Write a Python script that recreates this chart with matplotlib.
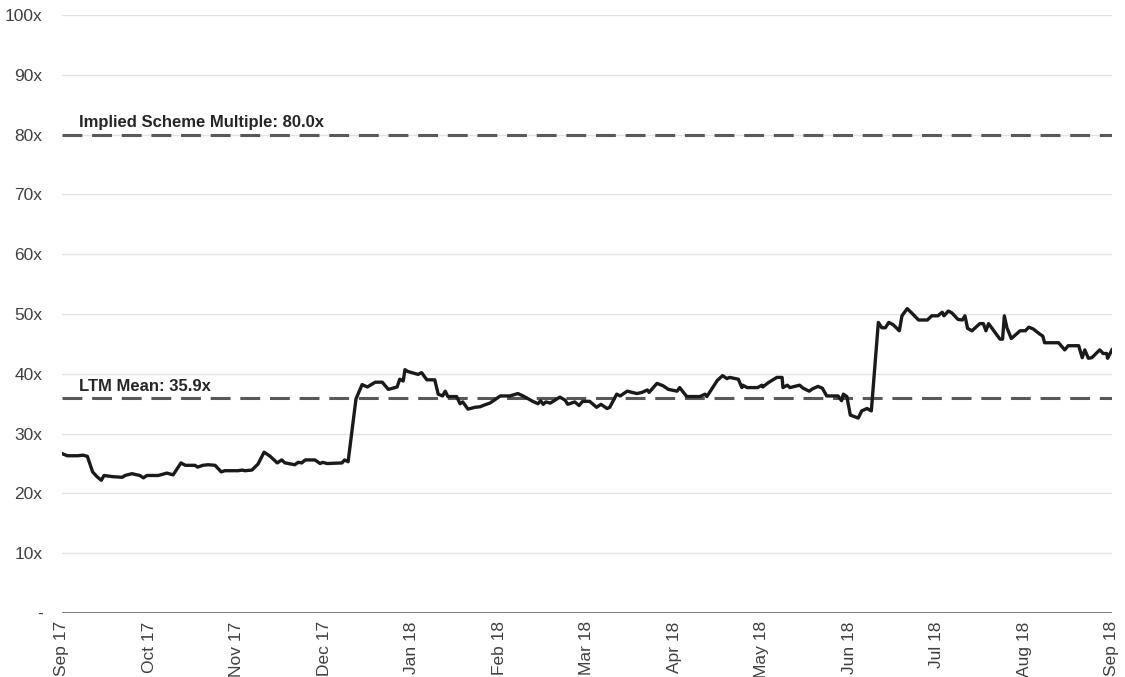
import numpy as np
import matplotlib
matplotlib.use('Agg')
import matplotlib.pyplot as plt

#---------------------------------------------------------------------#
# LTM trading multiple, Sep 17 - Sep 18                               #
# month_pos: position in months since Sep 17 (0 = Sep 17, 12 = Sep 18)#
#---------------------------------------------------------------------#
month_labels = ['Sep 17', 'Oct 17', 'Nov 17', 'Dec 17', 'Jan 18', 'Feb 18', 'Mar 18',
                'Apr 18', 'May 18', 'Jun 18', 'Jul 18', 'Aug 18', 'Sep 18']

month_pos = [0.01, 0.06, 0.18, 0.24, 0.29, 0.35, 0.40, 0.45, 0.48, 0.58, 0.69, 0.72,
             0.80, 0.89, 0.93, 0.97, 1.10, 1.20, 1.27, 1.36, 1.41, 1.52, 1.55, 1.61,
             1.67, 1.75, 1.82, 1.86, 2.01, 2.06, 2.09, 2.17, 2.24, 2.31, 2.38, 2.46,
             2.51, 2.55, 2.66, 2.70, 2.74, 2.78, 2.89, 2.95, 2.98, 3.03, 3.20, 3.23,
             3.27, 3.36, 3.43, 3.49, 3.58, 3.66, 3.73, 3.83, 3.86, 3.90, 3.92, 3.95,
             4.07, 4.11, 4.17, 4.26, 4.30, 4.35, 4.38, 4.41, 4.51, 4.55, 4.58, 4.64,
             4.72, 4.78, 4.83, 4.89, 5.01, 5.12, 5.21, 5.27, 5.38, 5.44, 5.47, 5.50,
             5.53, 5.58, 5.69, 5.75, 5.78, 5.86, 5.91, 5.95, 6.03, 6.11, 6.16, 6.23,
             6.26, 6.34, 6.38, 6.46, 6.57, 6.63, 6.69, 6.71, 6.80, 6.87, 6.93, 7.03,
             7.06, 7.14, 7.29, 7.35, 7.37, 7.41, 7.49, 7.55, 7.60, 7.63, 7.73, 7.77,
             7.78, 7.83, 7.95, 8.00, 8.01, 8.07, 8.17, 8.23, 8.24, 8.29, 8.32, 8.43,
             8.47, 8.54, 8.58, 8.64, 8.69, 8.74, 8.87, 8.91, 8.93, 8.97, 9.01, 9.10,
             9.14, 9.20, 9.25, 9.33, 9.37, 9.41, 9.45, 9.50, 9.57, 9.60, 9.66, 9.71,
             9.79, 9.89, 9.94, 10.01, 10.06, 10.08, 10.13, 10.17, 10.24, 10.29, 10.32, 10.35,
             10.40, 10.49, 10.53, 10.56, 10.59, 10.66, 10.72, 10.75, 10.77, 10.80, 10.85, 10.95,
             11.01, 11.05, 11.10, 11.17, 11.21, 11.23, 11.39, 11.46, 11.50, 11.62, 11.66, 11.69,
             11.73, 11.77, 11.86, 11.90, 11.94, 11.95, 12.00]

multiple = [26.6, 26.3, 26.3, 26.4, 26.2, 23.6, 22.8, 22.2, 23.0, 22.8, 22.7, 23.0,
            23.3, 23.0, 22.6, 23.0, 23.0, 23.4, 23.1, 25.1, 24.7, 24.7, 24.4, 24.7,
            24.8, 24.7, 23.6, 23.8, 23.8, 23.9, 23.8, 23.9, 24.9, 26.9, 26.2, 25.1,
            25.6, 25.1, 24.8, 25.2, 25.1, 25.6, 25.6, 25.0, 25.2, 25.0, 25.1, 25.6,
            25.3, 35.8, 38.2, 37.8, 38.6, 38.6, 37.4, 37.8, 39.1, 38.8, 40.7, 40.4,
            39.9, 40.2, 39.0, 39.0, 36.6, 36.3, 37.1, 36.2, 36.2, 35.0, 35.3, 34.1,
            34.4, 34.5, 34.8, 35.1, 36.3, 36.3, 36.7, 36.3, 35.4, 35.0, 35.5, 34.9,
            35.3, 35.1, 36.1, 35.6, 34.9, 35.3, 34.7, 35.4, 35.4, 34.4, 34.9, 34.2,
            34.4, 36.6, 36.3, 37.1, 36.7, 36.9, 37.3, 36.9, 38.4, 38.0, 37.4, 37.1,
            37.7, 36.2, 36.2, 36.6, 36.2, 37.1, 38.9, 39.7, 39.2, 39.4, 39.1, 37.7,
            38.1, 37.7, 37.7, 38.1, 37.8, 38.5, 39.4, 39.4, 37.7, 38.1, 37.7, 38.1,
            37.6, 37.1, 37.5, 37.9, 37.6, 36.3, 36.3, 35.5, 36.6, 36.2, 33.1, 32.6,
            33.8, 34.2, 33.8, 48.6, 47.7, 47.7, 48.6, 48.2, 47.2, 49.7, 50.9, 50.2,
            49.0, 49.0, 49.7, 49.7, 50.3, 49.7, 50.5, 50.2, 49.1, 49.0, 49.7, 47.6,
            47.2, 48.4, 48.4, 47.2, 48.4, 47.0, 45.8, 45.8, 49.7, 47.7, 45.9, 47.2,
            47.2, 47.8, 47.5, 46.7, 46.3, 45.2, 45.2, 44.0, 44.7, 44.7, 42.7, 44.0,
            42.6, 42.7, 44.0, 43.4, 43.4, 42.6, 44.0]

ref_values = [80.0, 35.9]
ref_labels = ['Implied Scheme Multiple: 80.0x', 'LTM Mean: 35.9x']

y_ticks = list(range(0, 101, 10))
y_tick_labels = ['-'] + ['{}x'.format(v) for v in y_ticks[1:]]

plt.rcParams['font.family'] = ['Liberation Sans', 'DejaVu Sans']

fig = plt.figure(figsize=(11.25, 6.77), dpi=100)
ax = fig.add_axes([0.0551, 0.0945, 0.9333, 0.8833])

# light horizontal grid
for v in y_ticks[1:]:
  ax.axhline(v, color='#e3e3e3', linewidth=1.0, zorder=0)
ax.axhline(0, color='#808080', linewidth=2.2, zorder=1)

# reference levels
for val, lab in zip(ref_values, ref_labels):
  ax.axhline(val, color='#595959', linewidth=2.2, dashes=(6.5, 3.2), zorder=2)
  ax.text(0.19, val + 0.8, lab, fontsize=12, fontweight='bold', color='#262626',
          ha='left', va='bottom')

ax.plot(month_pos, multiple, color='#1a1a1a', linewidth=2.4, solid_joinstyle='round', zorder=3)

ax.set_xlim(0, 12)
ax.set_ylim(0, 100)
ax.set_yticks(y_ticks)
ax.set_yticklabels(y_tick_labels)
ax.set_xticks(np.arange(len(month_labels)))
ax.set_xticklabels(month_labels, rotation=90)
ax.tick_params(axis='both', length=0, labelsize=12.5, labelcolor='#404040')
ax.tick_params(axis='y', pad=14)
ax.tick_params(axis='x', pad=6)
for s in ax.spines.values():
  s.set_visible(False)

plt.savefig('out.png', dpi=100)
